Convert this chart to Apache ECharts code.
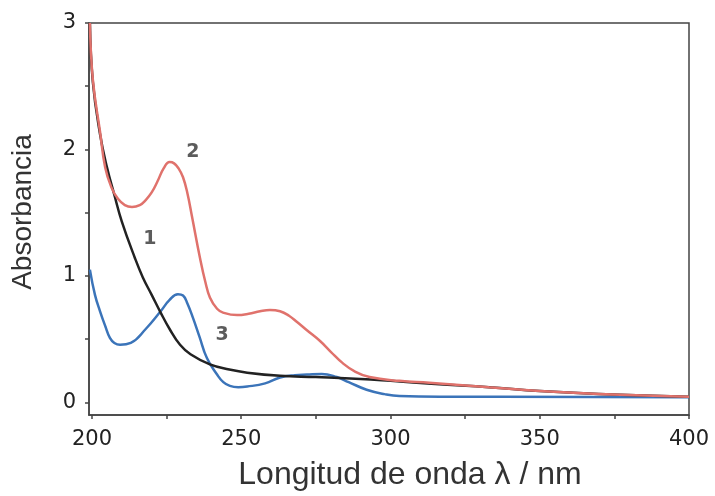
<!DOCTYPE html>
<html><head><meta charset="utf-8">
<script src="https://cdn.jsdelivr.net/npm/echarts@6/dist/echarts.min.js"></script>
<style>html,body{margin:0;padding:0;background:#fff}#c{width:715px;height:496px}</style>
</head><body><div id="c"></div>
<script>
const xTickLabels=[200,250,300,350,400];
const xTicks=[200,225,250,275,300,325,350,375,400];
const yTickLabels=[0,1,2,3];
const yTicks=[0,0.5,1,1.5,2,2.5,3];
const curve1=[[199.3,3.0],[200.3,2.53],[202.7,2.12],[205,1.86],[207.5,1.64],[210,1.43],[214.4,1.14],[217,0.99],[220,0.85],[223,0.71],[226,0.58],[229.5,0.455],[233,0.38],[239.5,0.30],[246,0.26],[252,0.235],[263,0.21],[275,0.2],[290,0.185],[300,0.17],[315,0.145],[333,0.12],[350,0.09],[377,0.06],[400,0.045]];
const curve2=[[199.3,3.0],[200.3,2.55],[202.7,2.14],[204.4,1.86],[206.5,1.7],[208.7,1.61],[211,1.56],[213.4,1.545],[216,1.56],[218,1.6],[220,1.66],[222,1.75],[224,1.85],[226,1.9],[227.5,1.89],[229,1.85],[230.5,1.78],[232,1.65],[233.5,1.47],[236.2,1.14],[238,0.95],[239.5,0.83],[241.9,0.74],[243.9,0.71],[248.6,0.69],[252.5,0.7],[256.3,0.72],[259.6,0.73],[263,0.72],[266,0.685],[268.7,0.635],[272,0.57],[276.4,0.485],[280,0.4],[284,0.31],[288,0.245],[293,0.2],[303,0.17],[313,0.155],[333,0.12],[350,0.09],[377,0.06],[400,0.045]];
const curve3=[[199.3,1.05],[201,0.85],[202.7,0.72],[204.5,0.6],[206,0.51],[207.5,0.47],[209.4,0.455],[213,0.47],[218,0.58],[223,0.72],[226,0.81],[228.8,0.855],[230.5,0.845],[232,0.78],[233.8,0.67],[236,0.52],[238.5,0.35],[241.9,0.22],[244,0.16],[246.2,0.13],[249,0.12],[252,0.125],[258,0.15],[263,0.196],[268,0.215],[272,0.22],[277,0.225],[282,0.2],[286,0.16],[292,0.1],[298,0.065],[303,0.05],[320,0.045],[400,0.04]];
const curveLabels=[{name:'1',value:[219.4,1.29]},{name:'2',value:[233.8,1.98]},{name:'3',value:[243.6,0.53]}];
const chart=echarts.init(document.getElementById('c'));
const axisCol='#444';
const lineOpts={smooth:0.45,symbol:'none',clip:true};
chart.setOption({
  animation:false,
  grid:{left:89,right:26,top:23,bottom:78,show:true,borderColor:axisCol,borderWidth:1.5,backgroundColor:'#fff'},
  xAxis:{type:'value',min:199,max:400,
    name:'Longitud de onda λ / nm',nameLocation:'middle',nameGap:44,
    nameTextStyle:{fontSize:32,color:'#333',fontFamily:'Liberation Sans',padding:[0,0,0,42]},
    axisLine:{show:true,onZero:false,lineStyle:{color:axisCol,width:1.5}},
    axisTick:{show:true,customValues:xTicks,length:4,lineStyle:{color:axisCol,width:1.5}},
    axisLabel:{customValues:xTickLabels,fontSize:21,color:'#222',fontFamily:'DejaVu Sans',margin:14},
    splitLine:{show:false}},
  yAxis:{type:'value',min:-0.1,max:3,
    name:'Absorbancia',nameLocation:'middle',nameGap:52,
    nameTextStyle:{fontSize:28,color:'#333',fontFamily:'Liberation Sans',padding:[0,0,0,14]},
    axisLine:{show:true,onZero:false,lineStyle:{color:axisCol,width:1.5}},
    axisTick:{show:true,customValues:yTicks,length:4,lineStyle:{color:axisCol,width:1.5}},
    axisLabel:{customValues:yTickLabels,fontSize:21,color:'#222',fontFamily:'DejaVu Sans',margin:13},
    splitLine:{show:false}},
  series:[
    Object.assign({type:'line',data:curve3,lineStyle:{color:'#3b74b9',width:2.5}},lineOpts),
    Object.assign({type:'line',data:curve1,lineStyle:{color:'#222',width:2.5}},lineOpts),
    Object.assign({type:'line',data:curve2,lineStyle:{color:'#e0726c',width:2.5}},lineOpts),
    {type:'scatter',data:curveLabels,symbolSize:0,label:{show:true,position:'inside',formatter:p=>p.name,fontSize:19,fontWeight:'bold',color:'#333',fontFamily:'DejaVu Sans'}}
  ]
});
</script></body></html>
